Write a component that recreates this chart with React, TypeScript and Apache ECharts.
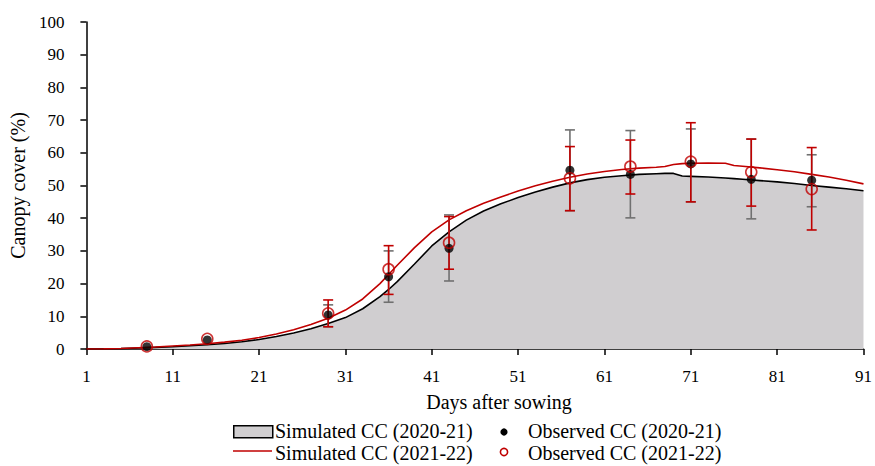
import React, { useEffect, useRef } from "react";
import * as echarts from "echarts";

const simDays = [1, 3, 5, 7, 9, 11, 13, 15, 17, 19, 21, 23, 25, 27, 29, 31, 33, 35, 36, 37, 39, 41, 43, 45, 47, 49, 51, 53, 55, 57, 59, 61, 63, 65, 67, 68, 69, 70, 71, 73, 75, 76, 77, 79, 81, 83, 85, 87, 89, 91];
const simCC2021 = [0, 0.02, 0.1, 0.3, 0.5, 0.7, 1.0, 1.3, 1.7, 2.2, 2.9, 3.8, 4.9, 6.2, 7.8, 9.6, 12.3, 16.0, 18.2, 20.6, 26.0, 31.5, 35.8, 39.4, 42.2, 44.4, 46.3, 48.0, 49.5, 50.8, 51.8, 52.5, 53.0, 53.4, 53.6, 53.7, 53.7, 52.9, 52.8, 52.6, 52.3, 52.1, 51.9, 51.5, 51.1, 50.6, 50.0, 49.5, 49.0, 48.4];
const simCC2122 = [0, 0.03, 0.15, 0.4, 0.6, 0.9, 1.2, 1.6, 2.1, 2.7, 3.5, 4.6, 5.9, 7.5, 9.4, 11.9, 15.3, 20.0, 22.8, 25.6, 31.0, 35.8, 39.5, 42.3, 44.6, 46.5, 48.3, 49.9, 51.3, 52.5, 53.5, 54.3, 54.9, 55.3, 55.6, 55.8, 56.4, 56.7, 56.8, 56.9, 56.8, 56.1, 55.9, 55.4, 54.8, 54.2, 53.4, 52.6, 51.6, 50.5];

const obsDays = [8, 15, 29, 36, 43, 57, 64, 71, 78, 85];
const obsCC2021 = [0.7, 2.75, 10.4, 22.1, 30.8, 54.7, 53.4, 56.6, 51.9, 51.6];
const obsCC2122 = [0.8, 3.1, 10.9, 24.4, 32.5, 52.2, 55.8, 57.3, 54.1, 48.9];
const errLow2021 = [null, null, 6.8, 14.3, 20.8, 42.3, 40.1, 45.0, 39.8, 43.5];
const errHigh2021 = [null, null, 13.5, 30.0, 41.0, 67.0, 66.8, 67.3, 64.2, 59.4];
const errLow2122 = [null, null, 6.8, 16.7, 24.4, 42.3, 47.4, 45.0, 43.7, 36.4];
const errHigh2122 = [null, null, 15.0, 31.6, 40.5, 61.9, 63.9, 69.2, 64.2, 61.6];

const xTicks = [1, 11, 21, 31, 41, 51, 61, 71, 81, 91];

const FONT = "Liberation Serif";
const RED = "#c00000";
const GRAY = "#707070";
const FILL = "#d0ced0";

function errData(lo: (number | null)[], hi: (number | null)[]) {
  const out: number[][] = [];
  obsDays.forEach((d, i) => {
    if (lo[i] != null && hi[i] != null) out.push([d, lo[i] as number, hi[i] as number]);
  });
  return out;
}

function errSeries(name: string, lo: (number | null)[], hi: (number | null)[], color: string, z: number) {
  return {
    type: "custom",
    name,
    z,
    data: errData(lo, hi),
    encode: { x: 0, y: [1, 2] },
    renderItem: (params: any, api: any) => {
      const x = api.value(0);
      const pLo = api.coord([x, api.value(1)]);
      const pHi = api.coord([x, api.value(2)]);
      const w = 5;
      const style = { stroke: color, lineWidth: 1.6, fill: null };
      return {
        type: "group",
        children: [
          { type: "line", shape: { x1: pLo[0], y1: pLo[1], x2: pHi[0], y2: pHi[1] }, style },
          { type: "line", shape: { x1: pLo[0] - w, y1: pLo[1], x2: pLo[0] + w, y2: pLo[1] }, style },
          { type: "line", shape: { x1: pHi[0] - w, y1: pHi[1], x2: pHi[0] + w, y2: pHi[1] }, style },
        ],
      };
    },
  };
}

export default function App() {
  const ref = useRef<HTMLDivElement>(null);
  useEffect(() => {
    if (!ref.current) return;
    const chart = echarts.init(ref.current, null, { renderer: "svg" });
    const textStyle = { fontFamily: FONT, fontSize: 20, color: "#000" };
    const legendFont = `20px "${FONT}"`;
    chart.setOption({
      animation: false,
      textStyle: { fontFamily: FONT },
      grid: { left: 82, right: 9, top: 22, bottom: 117 },
      xAxis: {
        type: "value",
        min: 1,
        max: 91,
        name: "Days after sowing",
        nameLocation: "middle",
        nameGap: 43,
        nameTextStyle: { ...textStyle, padding: [0, 0, 0, 48] },
        splitLine: { show: false },
        axisLine: { show: true, lineStyle: { color: "#000", width: 1.5 } },
        axisTick: { show: true, length: 6, lineStyle: { color: "#000", width: 1.5 }, customValues: xTicks },
        axisLabel: { fontFamily: FONT, fontSize: 17, color: "#000", margin: 19, customValues: xTicks },
      },
      yAxis: {
        type: "value",
        min: 0,
        max: 100,
        interval: 10,
        name: "Canopy cover (%)",
        nameLocation: "middle",
        nameGap: 56,
        nameTextStyle: textStyle,
        splitLine: { show: false },
        axisLine: { show: true, lineStyle: { color: "#000", width: 1.5 } },
        axisTick: { show: true, length: 6, lineStyle: { color: "#000", width: 1.5 } },
        axisLabel: { fontFamily: FONT, fontSize: 17, color: "#000", margin: 22 },
      },
      series: [
        {
          type: "line",
          name: "Simulated CC (2020-21)",
          data: simDays.map((d, i) => [d, simCC2021[i]]),
          showSymbol: false,
          symbol: "none",
          lineStyle: { color: "#000", width: 1.6 },
          areaStyle: { color: FILL, opacity: 1 },
          z: 1,
        },
        {
          type: "line",
          name: "Simulated CC (2021-22)",
          data: simDays.map((d, i) => [d, simCC2122[i]]),
          showSymbol: false,
          symbol: "none",
          lineStyle: { color: RED, width: 1.6 },
          z: 2,
        },
        errSeries("err2021", errLow2021, errHigh2021, GRAY, 3),
        errSeries("err2122", errLow2122, errHigh2122, RED, 4),
        {
          type: "scatter",
          name: "Observed CC (2020-21)",
          data: obsDays.map((d, i) => [d, obsCC2021[i]]),
          symbol: "circle",
          symbolSize: 9,
          itemStyle: { color: "#000" },
          z: 5,
        },
        {
          type: "scatter",
          name: "Observed CC (2021-22)",
          data: obsDays.map((d, i) => [d, obsCC2122[i]]),
          symbol: "circle",
          symbolSize: 11,
          itemStyle: { color: "rgba(0,0,0,0)", borderColor: RED, borderWidth: 1.6 },
          z: 6,
        },
      ],
      graphic: [
        { type: "rect", left: 233, top: 425, shape: { width: 39, height: 12 }, style: { fill: FILL, stroke: "#000", lineWidth: 1.5 } },
        { type: "text", left: 275, top: 421, style: { text: "Simulated CC (2020-21)", font: legendFont, fill: "#000" } },
        { type: "circle", shape: { cx: 504, cy: 432, r: 3.6 }, style: { fill: "#000" } },
        { type: "text", left: 528, top: 421, style: { text: "Observed CC (2020-21)", font: legendFont, fill: "#000" } },
        { type: "line", shape: { x1: 233, y1: 451, x2: 272, y2: 451 }, style: { stroke: RED, lineWidth: 1.5 } },
        { type: "text", left: 275, top: 443, style: { text: "Simulated CC (2021-22)", font: legendFont, fill: "#000" } },
        { type: "circle", shape: { cx: 504, cy: 452, r: 3.6 }, style: { fill: "none", stroke: RED, lineWidth: 1.6 } },
        { type: "text", left: 528, top: 443, style: { text: "Observed CC (2021-22)", font: legendFont, fill: "#000" } },
      ],
    });
    return () => chart.dispose();
  }, []);
  return <div ref={ref} style={{ width: 875, height: 466, position: "absolute", left: 0, top: 0 }} />;
}
